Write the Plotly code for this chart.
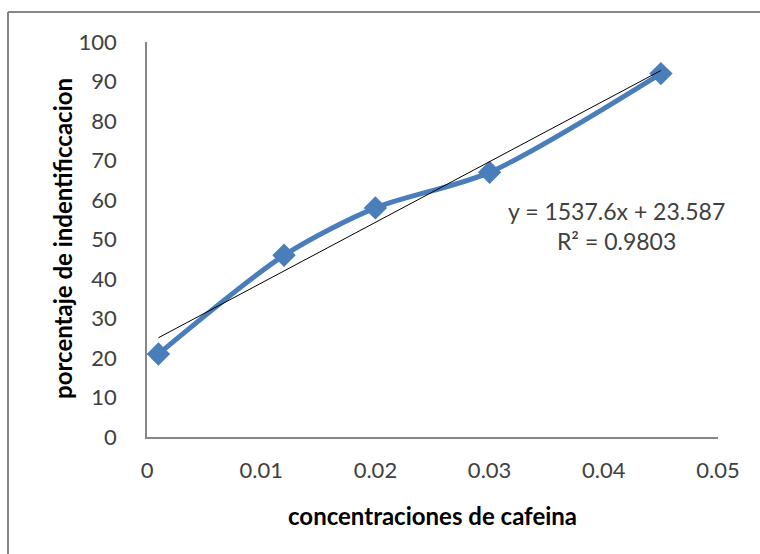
import plotly.graph_objects as go

concentraciones = [0.001, 0.012, 0.02, 0.03, 0.045]
porcentaje = [21, 46, 58, 67, 92]
slope = 1537.6
intercept = 23.587
r2 = 0.9803
x_ticks = [0, 0.01, 0.02, 0.03, 0.04, 0.05]
x_tick_labels = ["0", "0.01", "0.02", "0.03", "0.04", "0.05"]
y_ticks = [0, 10, 20, 30, 40, 50, 60, 70, 80, 90, 100]

FONT = "Lato, 'Open Sans', sans-serif"
W, H = 760, 554
L, R, T, B = 147, 42, 42, 117
pw, ph = W - L - R, H - T - B

def px(xp):
    return (xp - L) / pw

def py(yp):
    return (H - B - yp) / ph

trend_x = [min(concentraciones), max(concentraciones)]
trend_y = [slope * v + intercept for v in trend_x]

fig = go.Figure()
fig.add_trace(go.Scatter(
    x=concentraciones, y=porcentaje, mode="lines+markers",
    line=dict(color="#4A7EBB", width=5, shape="spline", smoothing=0.8),
    marker=dict(symbol="diamond", size=18, color="#4A7EBB"),
    showlegend=False, hoverinfo="skip"))
fig.add_trace(go.Scatter(
    x=trend_x, y=trend_y, mode="lines",
    line=dict(color="#000000", width=1),
    showlegend=False, hoverinfo="skip"))

fig.update_layout(
    width=W, height=H,
    margin=dict(l=L, r=R, t=T, b=B),
    paper_bgcolor="white", plot_bgcolor="white",
    font=dict(family=FONT, color="#404040", size=22),
    xaxis=dict(range=[0, 0.05], tickvals=x_ticks, ticktext=x_tick_labels,
               showgrid=False, zeroline=False, showline=True,
               linecolor="#868686", linewidth=1.5, ticks="",
               ticklabelstandoff=13,
               tickfont=dict(family=FONT, size=22, color="#404040")),
    yaxis=dict(range=[0, 100], tickvals=y_ticks,
               showgrid=False, zeroline=False, showline=True,
               linecolor="#868686", linewidth=1.5, ticks="",
               ticklabelstandoff=24,
               tickfont=dict(family=FONT, size=22, color="#404040")),
    shapes=[
        dict(type="line", xref="paper", yref="paper",
             x0=px(8), y0=py(12), x1=px(W + 2), y1=py(12),
             line=dict(color="#868686", width=2)),
        dict(type="line", xref="paper", yref="paper",
             x0=px(8), y0=py(12), x1=px(8), y1=py(H + 2),
             line=dict(color="#868686", width=2)),
    ],
    annotations=[
        dict(text="<b>concentraciones de cafeina</b>", xref="paper", yref="paper",
             x=px(432), y=py(515), showarrow=False,
             font=dict(family=FONT, size=24, color="#000000"),
             xanchor="center", yanchor="middle"),
        dict(text="<b>porcentaje de indentificcacion</b>", xref="paper", yref="paper",
             x=px(62), y=py(239), showarrow=False, textangle=-90,
             font=dict(family=FONT, size=24, color="#000000"),
             xanchor="center", yanchor="middle"),
        dict(text=f"y = {slope}x + {intercept}<br>R² = {r2}", xref="paper", yref="paper",
             x=px(616), y=py(226), showarrow=False, align="center",
             font=dict(family=FONT, size=23, color="#404040"),
             xanchor="center", yanchor="middle"),
    ],
)

fig.write_html("out.html")
